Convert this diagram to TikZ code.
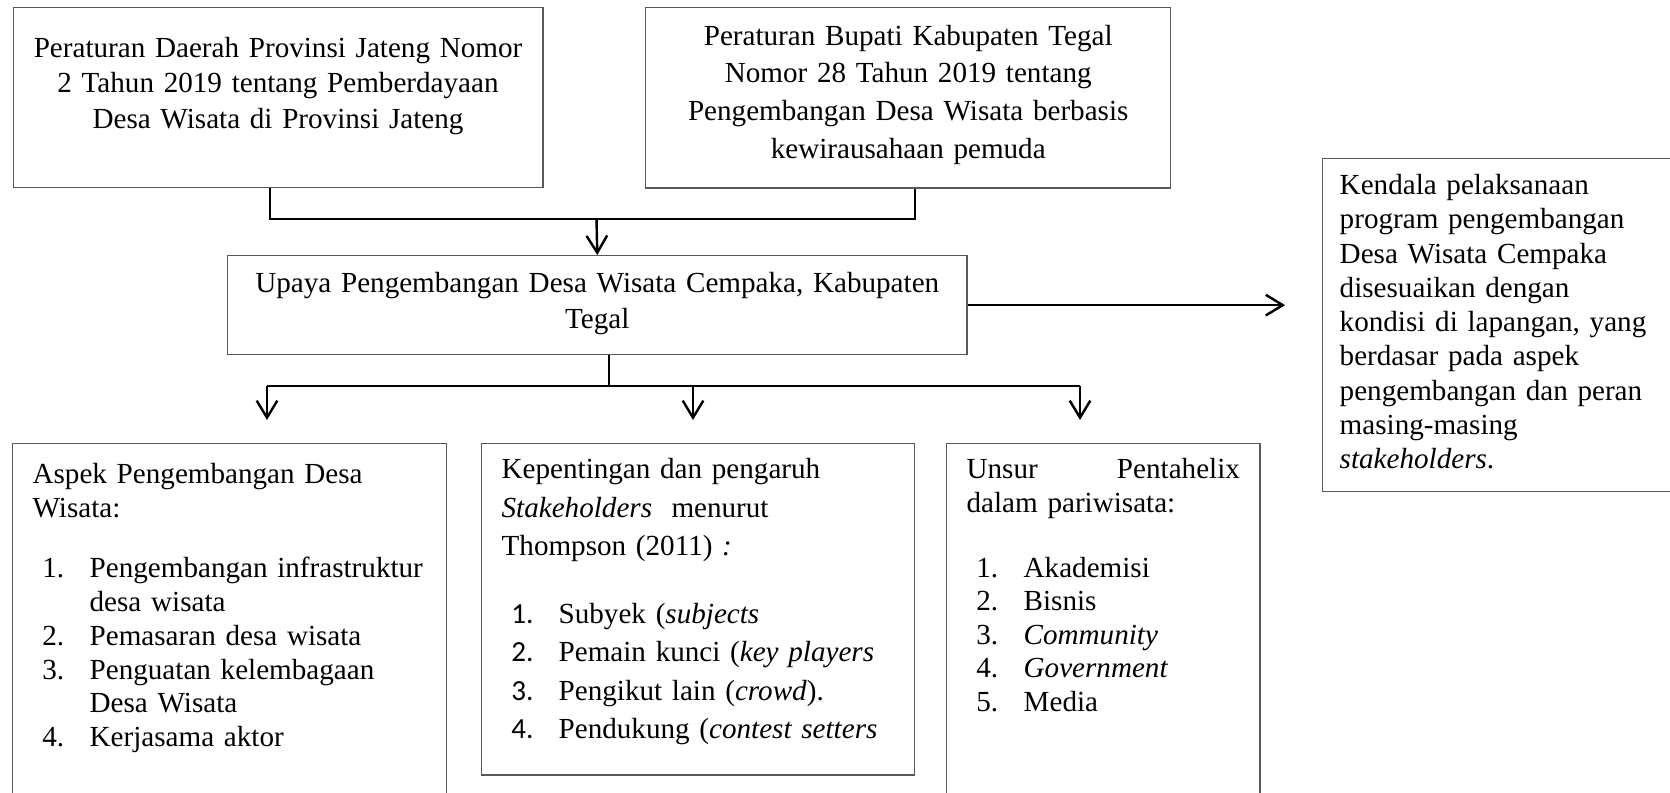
\documentclass[tikz,border=0pt]{standalone}
\usepackage{fontspec}
\setmainfont{Liberation Serif}
\newfontfamily\calfont{Carlito}
\usetikzlibrary{arrows.meta}

\newcommand{\numitem}[2]{\hspace*{4pt}\makebox[19.5pt][l]{#1}#2}
\newcommand{\contline}{\hspace*{23.5pt}}

\begin{document}
\begin{tikzpicture}[x=0.412pt,y=-0.412pt,
    >={Straight Barb[length=7pt,width=8.5pt]},
    conn/.style={line width=1pt},
    box/.style={draw=black!65,line width=0.6pt,anchor=north west,inner ysep=0pt},
    mid box/.style={box,align=center,inner xsep=4pt,font=\fontsize{12}{14.8}\selectfont},
    side box/.style={box,align=left,inner xsep=8.2pt,font=\fontsize{12}{13.9}\selectfont}]
  \useasboundingbox (0,0) rectangle (1670,792);
  \clip (0,0) rectangle (1670,792);

  % regulations
  \node[mid box,text width=210.2pt,text height=20.3pt,text depth=53.8pt] (perda) at (12.5,7)
    {Peraturan Daerah Provinsi Jateng Nomor\\ 2 Tahun 2019 tentang Pemberdayaan\\ Desa Wisata di Provinsi Jateng};
  \node[mid box,text width=208.3pt,text height=15.4pt,text depth=58.8pt,
        font=\fontsize{12}{15.6}\selectfont] (perbup) at (645,7)
    {Peraturan Bupati Kabupaten Tegal\\ Nomor 28 Tahun 2019 tentang\\ Pengembangan Desa Wisata berbasis\\ kewirausahaan pemuda};

  % main effort
  \node[mid box,text width=296.5pt,text height=15.2pt,text depth=25.5pt] (upaya) at (227,255)
    {Upaya Pengembangan Desa Wisata Cempaka, Kabupaten\\ Tegal};

  \node[side box,inner xsep=7pt,text width=130.2pt,text height=14.8pt,text depth=122.4pt,
        font=\fontsize{12}{14.1}\selectfont] (kendala) at (1322,158)
    {Kendala pelaksanaan\\ program pengembangan\\ Desa Wisata Cempaka\\ disesuaikan dengan\\
     kondisi di lapangan, yang\\ berdasar pada aspek\\ pengembangan dan peran\\ masing-masing\\
     {\large\itshape stakeholders}.};

  % bottom row
  \node[side box,text width=162.4pt,text height=16.5pt,text depth=130.6pt] (aspek) at (12,443)
    {Aspek Pengembangan Desa\\ Wisata:\\[11pt]
     \numitem{1.}{Pengembangan infrastruktur}\\ \contline desa wisata\\
     \numitem{2.}{Pemasaran desa wisata}\\
     \numitem{3.}{Penguatan kelembagaan}\\ \contline Desa Wisata\\
     \numitem{4.}{Kerjasama aktor}};
  \node[side box,text width=162pt,text height=14.4pt,text depth=122pt,
        font=\fontsize{12}{15.85}\selectfont] (stake) at (481,443)
    {Kepentingan dan pengaruh\\ \textit{Stakeholders}\ \ menurut\\ Thompson (2011) \textit{:}\\[12pt]
     \numitem{\calfont 1.}{Subyek (\textit{subjects}}\\
     \numitem{\calfont 2.}{Pemain kunci (\textit{key players}}\\
     \numitem{\calfont 3.}{Pengikut lain (\textit{crowd}).}\\
     \numitem{\calfont 4.}{Pendukung (\textit{contest setters}}};
  \node[side box,text width=112.6pt,text height=14.4pt,text depth=132.7pt,
        font=\fontsize{12}{13.8}\selectfont] (penta) at (946,443)
    {Unsur\hfill Pentahelix\\ dalam pariwisata:\\[13pt]
     \numitem{1.}{Akademisi}\\
     \numitem{2.}{Bisnis}\\
     \numitem{3.}{\textit{Community}}\\
     \numitem{4.}{\textit{Government}}\\
     \numitem{5.}{Media}};

  % connectors
  \coordinate (join) at (596.5,219);
  \draw[conn] ([xshift=-3.3pt]perda.south) |- (join) -| ([xshift=2.7pt]perbup.south);
  \draw[conn,->] (join) -- (upaya.north);
  \draw[conn,->,shorten >=15.2pt] (upaya.east) -- (upaya.east -| kendala.west);

  \coordinate (split) at (609,386);
  \coordinate (left end) at (267,386);
  \coordinate (right end) at (1080,386);
  \draw[conn] (upaya.south -| split) -- (split);
  \draw[conn] (left end) -- (right end);
  \foreach \b/\x in {aspek/267,stake/693,penta/1080}
    \draw[conn,->,shorten >=9.5pt] (\x,386) -- (\x,386 |- \b.north);
\end{tikzpicture}
\end{document}
